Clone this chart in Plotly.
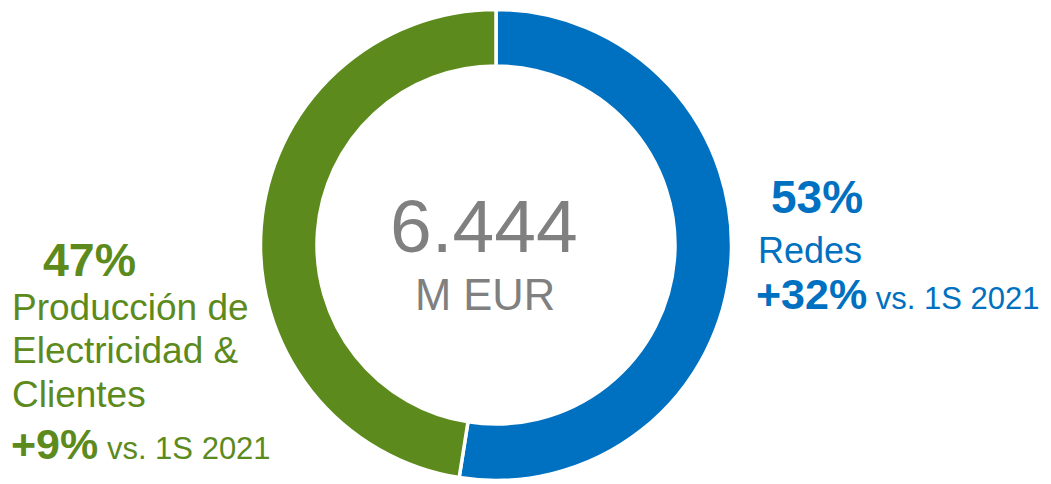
import plotly.graph_objects as go

labels = ["Redes", "Producción de Electricidad & Clientes"]
shares = [52.5, 47.5]          # slice sizes
pct_labels = ["53%", "47%"]    # rounded shares printed on the chart
colors = ["#0070C0", "#5C8A1C"]
total_label = "6.444"
unit_label = "M EUR"
growth = ["+32%", "+9%"]
compare_label = "vs. 1S 2021"

W, H = 1051, 484
OFF = 8  # page body margin in the browser
cx, cy, R = 496 - OFF, 245 - OFF, 235.5

fig = go.Figure(go.Pie(
    labels=labels, values=shares, sort=False, direction="clockwise", rotation=0,
    hole=0.76, marker=dict(colors=colors, line=dict(color="white", width=3.5)),
    textinfo="none", hoverinfo="label", showlegend=False,
    domain=dict(x=[(cx - R) / W, (cx + R) / W], y=[1 - (cy + R) / H, 1 - (cy - R) / H]),
))

FONT = "Arial, 'Liberation Sans', sans-serif"

def ann(text, x, baseline, size, color, xanchor="left", bold=False):
    y = baseline - 0.35 * size
    fig.add_annotation(
        text=f"<b>{text}</b>" if bold else text,
        x=(x - OFF) / W, y=1 - (y - OFF) / H, xref="paper", yref="paper",
        xanchor=xanchor, yanchor="middle", showarrow=False,
        font=dict(family=FONT, size=size, color=color),
    )

gray = "#808080"
ann(total_label, 484, 252, 75, gray, xanchor="center")
ann(unit_label, 485, 310, 43.5, gray, xanchor="center")

# Right (Redes)
blue = colors[0]
ann(pct_labels[0], 769, 213.5, 46, blue, bold=True)
ann(labels[0], 756, 263.5, 36, blue)
ann(f"<b>{growth[0]}</b><span style='font-size:31px'> {compare_label}</span>",
    754, 309, 43, blue)

# Left (Producción)
green = colors[1]
ann(pct_labels[1], 41, 276, 46.5, green, bold=True)
ann("Producción de", 10, 320, 37, green)
ann("Electricidad &", 10, 363.5, 37, green)
ann("Clientes", 10, 407, 37, green)
ann(f"<b>{growth[1]}</b><span style='font-size:31px'> {compare_label}</span>",
    9, 459, 43, green)

fig.update_layout(
    width=W, height=H, margin=dict(l=0, r=0, t=0, b=0),
    paper_bgcolor="white", plot_bgcolor="white",
)
fig.write_html("out.html")
